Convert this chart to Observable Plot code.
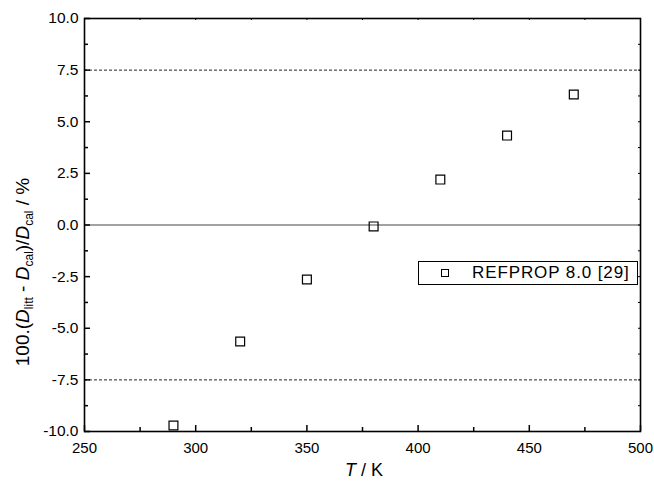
<!DOCTYPE html>
<html><head><meta charset="utf-8">
<script src="https://cdn.jsdelivr.net/npm/d3@7"></script>
<script src="https://cdn.jsdelivr.net/npm/@observablehq/plot@0.6"></script>
<style>
body{margin:0;background:#fff;}
#wrap{position:relative;width:654px;height:483px;font-family:"Liberation Sans",Arial,sans-serif;}
#legend{position:absolute;left:418px;top:261px;width:220px;height:24px;border:1px solid #000;background:#fff;box-sizing:border-box;font-size:17px;}
#legend .sq{position:absolute;left:22px;top:7px;width:8px;height:8px;border:1px solid #000;box-sizing:border-box;}
#legend .tx{position:absolute;left:53px;top:1px;white-space:nowrap;letter-spacing:0.9px;}
</style>
</head><body>
<div id="wrap"></div>
<script>
const T = [290, 320, 350, 380, 410, 440, 470];
const dev = [-9.71, -5.64, -2.64, -0.07, 2.20, 4.33, 6.32];
const xTicks = [250, 300, 350, 400, 450, 500];
const xMinor = [275, 325, 375, 425, 475];
const yTicks = [-10, -7.5, -5, -2.5, 0, 2.5, 5, 7.5, 10];
const yMinor = [-8.75, -6.25, -3.75, -1.25, 1.25, 3.75, 6.25, 8.75];
const refLines = [-7.5, 7.5];
const legendLabel = "REFPROP 8.0 [29]";

const W = 654, H = 483, mL = 84, mR = 14, mT = 18, mB = 52;
const pw = W - mL - mR, ph = H - mT - mB;
const data = T.map((t, i) => ({T: t, d: dev[i]}));

const chart = Plot.plot({
  width: W, height: H,
  marginLeft: mL, marginRight: mR, marginTop: mT, marginBottom: mB,
  style: {fontFamily: '"Liberation Sans", Arial, sans-serif', fontSize: "15px", background: "white", color: "black"},
  x: {domain: [250, 500]},
  y: {domain: [-10, 10]},
  marks: [
    Plot.ruleY([0], {stroke: "#444", strokeWidth: 1}),
    Plot.ruleY(refLines, {stroke: "#222", strokeDasharray: "3,2", strokeWidth: 1}),
    Plot.tickX(xTicks, {x: d => d, insetTop: ph - 6, strokeWidth: 1.5}),
    Plot.tickX(xMinor, {x: d => d, insetTop: ph - 4, strokeWidth: 1.5}),
    Plot.tickX(xTicks.concat(xMinor), {x: d => d, insetBottom: ph - 2, strokeWidth: 1}),
    Plot.tickY(yTicks, {y: d => d, insetRight: pw - 6, strokeWidth: 1.5}),
    Plot.tickY(yMinor, {y: d => d, insetRight: pw - 4, strokeWidth: 1.5}),
    Plot.tickY(yTicks.concat(yMinor), {y: d => d, insetLeft: pw - 2, strokeWidth: 1}),
    Plot.frame({stroke: "black", strokeWidth: 1.6}),
    Plot.dot(data, {x: "T", y: "d", symbol: "square", r: 5, stroke: "black", fill: "none", strokeWidth: 1.2}),
    Plot.axisX(xTicks, {tickSize: 0, tickPadding: 11, tickFormat: d => String(d), label: null, fontSize: 15}),
    Plot.axisY(yTicks, {tickSize: 0, tickPadding: 6, tickFormat: d => d.toFixed(1), label: null, fontSize: 15.5})
  ]
});

const wrap = document.getElementById("wrap");
wrap.appendChild(chart);

const svg = d3.select(chart);
const xt = svg.append("text").attr("x", 364).attr("y", 476)
  .attr("text-anchor", "middle").attr("font-size", 18).attr("fill", "black");
xt.append("tspan").attr("font-style", "italic").text("T");
xt.append("tspan").text(" / K");

const yt = svg.append("text").attr("transform", `translate(29,272) rotate(-90)`)
  .attr("text-anchor", "middle").attr("font-size", 19).attr("fill", "black");
yt.append("tspan").text("100.(");
yt.append("tspan").attr("font-style", "italic").text("D");
yt.append("tspan").attr("font-size", 12).attr("dy", 4).text("litt");
yt.append("tspan").attr("dy", -4).text(" - ");
yt.append("tspan").attr("font-style", "italic").text("D");
yt.append("tspan").attr("font-size", 12).attr("dy", 4).text("cal");
yt.append("tspan").attr("dy", -4).text(")/");
yt.append("tspan").attr("font-style", "italic").text("D");
yt.append("tspan").attr("font-size", 12).attr("dy", 4).text("cal");
yt.append("tspan").attr("dy", -4).text(" / %");

const lg = document.createElement("div");
lg.id = "legend";
lg.innerHTML = '<div class="sq"></div><div class="tx"></div>';
lg.querySelector(".tx").textContent = legendLabel;
wrap.appendChild(lg);
</script>
</body></html>
